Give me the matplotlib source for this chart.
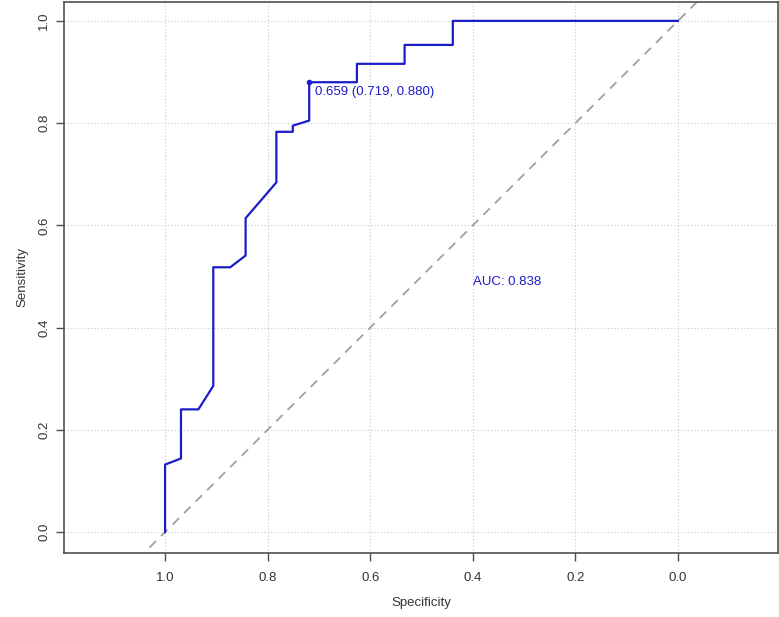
import matplotlib
matplotlib.use("Agg")
from matplotlib import pyplot as plt
import numpy as np

plt.rcParams['font.family'] = ['Liberation Sans', 'DejaVu Sans']

# ROC curve points (specificity, sensitivity)
specificity = [1.000, 1.000, 0.969, 0.969, 0.935, 0.906, 0.906, 0.873, 0.843, 0.843,
               0.783, 0.783, 0.751, 0.751, 0.719, 0.719, 0.626, 0.626, 0.533, 0.533,
               0.439, 0.439, 0.000]
sensitivity = [0.000, 0.132, 0.144, 0.240, 0.240, 0.286, 0.518, 0.518, 0.541, 0.614,
               0.684, 0.783, 0.783, 0.795, 0.805, 0.880, 0.880, 0.916, 0.916, 0.953,
               0.953, 1.000, 1.000]
best_spec = 0.719
best_sens = 0.880
best_label = "0.659 (0.719, 0.880)"
auc_label = "AUC: 0.838"
ticks = [0.0, 0.2, 0.4, 0.6, 0.8, 1.0]

fig = plt.figure(figsize=(7.79, 6.17), dpi=100)
ax = fig.add_axes([0.0822, 0.1037, 0.9165, 0.8931])

blue = '#1c1cc9'
grey = '#505050'

for t in ticks:
    ax.axvline(t, color='#c8c8c8', lw=0.8, ls=(0, (1, 2)), zorder=0)
    ax.axhline(t, color='#c8c8c8', lw=0.8, ls=(0, (1, 2)), zorder=0)

# chance diagonal
ax.axline((1, 0), (0, 1), color='#a0a0a0', lw=1.3, ls=(0, (5, 4)), zorder=1)

ax.plot(specificity, sensitivity, color=blue, lw=1.6, zorder=3)
ax.plot([best_spec], [best_sens], 'o', color=blue, ms=3, zorder=4)
ax.text(best_spec - 0.012, best_sens - 0.019, best_label, color=blue,
        fontsize=9.5, ha='left', va='center')
ax.text(0.4, 0.5, auc_label, color=blue, fontsize=9.5, ha='left', va='top')

ax.set_xlim(1.197, -0.195)
ax.set_ylim(-0.041, 1.037)
ax.set_xticks(ticks)
ax.set_yticks(ticks)
ax.set_xticklabels(["%.1f" % t for t in ticks])
ax.set_yticklabels(["%.1f" % t for t in ticks], rotation=90, va='center')
ax.tick_params(colors='#333333', labelsize=9.5, length=6, width=1, color=grey)
ax.tick_params(axis='x', pad=8)
ax.tick_params(axis='y', pad=4)
for s in ax.spines.values():
    s.set_color(grey)
    s.set_linewidth(1.2)

ax.set_xlabel("Specificity", fontsize=9.5, color='#333333', labelpad=9)
ax.set_ylabel("Sensitivity", fontsize=9.5, color='#333333', labelpad=7)

plt.savefig("out.png", dpi=100)
